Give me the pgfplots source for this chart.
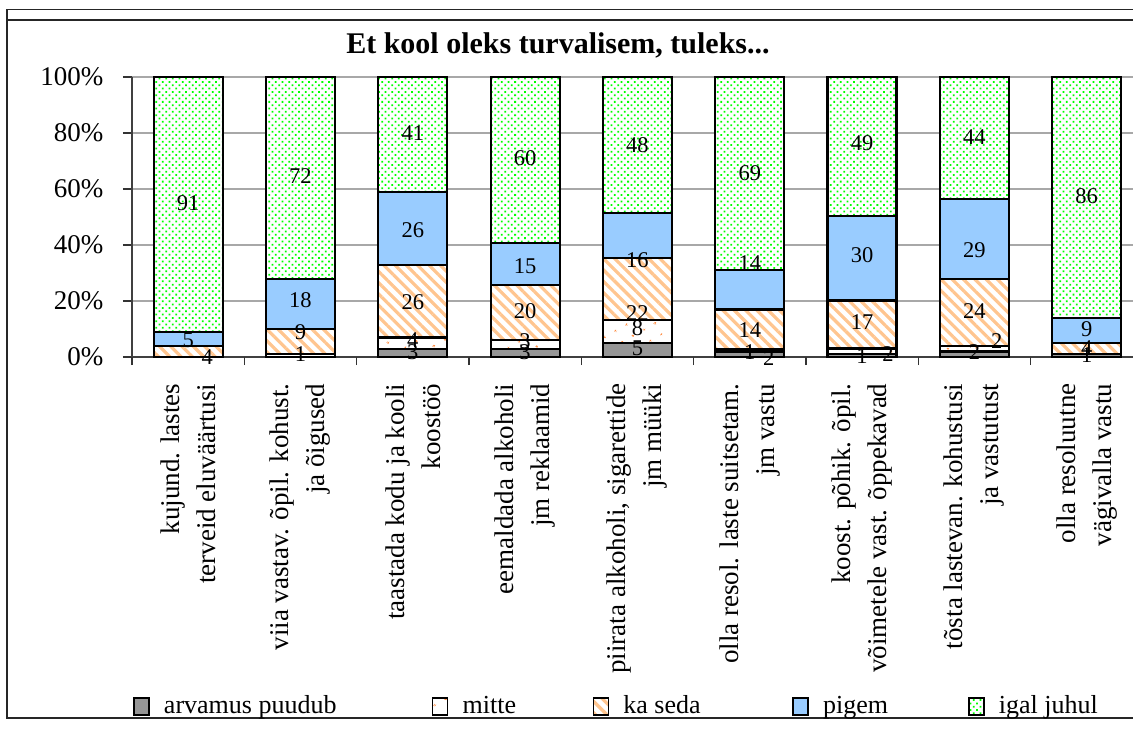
\documentclass[border=0pt]{standalone}
\usepackage{pgfplots}
\pgfplotsset{compat=1.18}
\usepackage{pgfplotstable}
\usetikzlibrary{patterns.meta}
\usepackage{fontspec}
\setmainfont{Liberation Serif}
\definecolor{cgray}{HTML}{969696}
\definecolor{cpeach}{HTML}{FFC58F}
\definecolor{cdotor}{HTML}{FF8A3D}
\definecolor{cblue}{HTML}{99CCFF}
\definecolor{cgreen}{HTML}{00FF00}
\definecolor{cgrid}{HTML}{A8A8A8}

\pgfplotstableread{
x  arv   mit   kas    pig    iga
0  0     0     4      5      91
1  0     1     9      18     72
2  3     4     26     26     41
3  2.97  2.97  19.80  14.85  59.41
4  5.05  8.08  22.22  16.16  48.49
5  2     1     14     14     69
6  1.01  2.02  17.17  30.30  49.50
7  1.98  1.98  23.76  28.71  43.57
8  1     0     4      9      86
}\bars

\pgfplotstableread{
x     y     lab
0.17  0     4
0     6     5
0     55    91
1     1     1
1     9     9
1     20.4  18
1     64.6  72
2     1.8   3
2     6     4
2     19.6  26
2     45.4  26
2     80    41
3     1.8   3
3     5.7   3
3     16.4  20
3     32.5  15
3     71    60
4     3.2   5
4     10.4  8
4     15.7  22
4     34.6  16
4     75.7  48
5.17  -0.4  2
5     1.8   1
5     9.6   14
5     33.6  14
5     65.7  69
6     0.4   1
6.23  1     2
6     12.5  17
6     36.4  30
6     76.4  49
7     1.8   2
7.2   5.7   2
7     16.4  24
7     38.2  29
7     78.6  44
8     0.7   1
8     3.2   4
8     10    9
8     57.5  86
}\labels

\begin{document}
\begin{tikzpicture}
\useasboundingbox (-132pt,-373pt) rectangle (1001pt,357pt);
\clip (-132pt,-373pt) rectangle (1001pt,357pt);
% chart frame
\draw[line width=1.3pt, black!85] (1020pt,347.5pt) -- (-125pt,347.5pt) -- (-125pt,-361pt) -- (1020pt,-361pt);
\draw[line width=1.3pt, black!85] (-125pt,337pt) -- (1020pt,337pt);
\node[font=\bfseries\fontsize{30}{36}\selectfont] at (426pt,312pt) {Et kool oleks turvalisem, tuleks...};

\begin{axis}[
  at={(0pt,0pt)}, anchor=south west,
  scale only axis, width=1011pt, height=280pt,
  ybar stacked, bar width=69pt,
  xmin=-0.5, xmax=8.5, ymin=0, ymax=100,
  axis x line*=bottom, axis y line*=left,
  axis line style={line width=1.6pt, black!75, -},
  ytick={0,20,...,100},
  yticklabel={\pgfmathprintnumber{\tick}\%},
  /pgf/number format/assume math mode=true,
  yticklabel style={font=\fontsize{27}{32}\selectfont, xshift=-16pt},
  ymajorgrids, grid style={line width=1.5pt, cgrid},
  major tick style={line width=1.3pt, black!80},
  minor tick style={line width=1.3pt, black!80},
  tick align=outside,
  major tick length=9pt,
  xtick={0,...,8},
  x tick style={draw=none},
  extra x ticks={-0.5,0.5,...,8.5}, extra x tick labels={},
  extra x tick style={major tick length=8pt, x tick style={draw=black!80, line width=1.3pt}, grid=none},
  xticklabels={
    {kujund. lastes\\terveid eluväärtusi},
    {viia vastav. õpil. kohust.\\ja õigused},
    {taastada kodu ja kooli\\koostöö},
    {eemaldada alkoholi\\jm reklaamid},
    {piirata alkoholi, sigarettide\\jm müüki},
    {olla resol. laste suitsetam.\\jm vastu},
    {koost. põhik. õpil.\\võimetele vast. õppekavad},
    {tõsta lastevan. kohustusi\\ja vastutust},
    {olla resoluutne\\vägivalla vastu}},
  xticklabel style={rotate=90, anchor=east, align=right, font=\fontsize{27}{36}\selectfont},
  xticklabel shift=14pt,
  legend columns=5,
  legend style={at={(0.001,-1.25)}, anchor=west, draw=none, fill=none,
     inner sep=0pt, column sep=0pt, row sep=0pt,
     font=\fontsize{26}{30}\selectfont,
     nodes={inner sep=0pt, anchor=base west, text height=18pt, text depth=6pt}},
  legend image code/.code={
     \draw[#1, line width=1.3pt] (0pt,-2pt) rectangle (15pt,15pt);
     \path (29pt,0pt);},
  every axis plot/.append style={draw=black, line width=2.2pt},
]
\addplot[fill=cgray] table[x=x,y=arv]{\bars};
\addplot[fill=white, postaction={pattern={Dots[radius=1.3pt, distance=13pt, angle=30]}, pattern color=cdotor}] table[x=x,y=mit]{\bars};
\addplot[fill=white, postaction={pattern={Lines[angle=-45, distance=8pt, line width=3.2pt]}, pattern color=cpeach}] table[x=x,y=kas]{\bars};
\addplot[fill=cblue] table[x=x,y=pig]{\bars};
\addplot[fill=white, postaction={pattern={Dots[radius=1.25pt, distance=4.7pt, angle=45]}, pattern color=cgreen}] table[x=x,y=iga]{\bars};
\legend{\makebox[268pt][l]{arvamus puudub},\makebox[130pt][l]{mitte},\makebox[169pt][l]{ka seda},\makebox[145pt][l]{pigem},igal juhul}
\end{axis}

\begin{axis}[
  at={(0pt,0pt)}, anchor=south west,
  scale only axis, width=1011pt, height=280pt,
  xmin=-0.5, xmax=8.5, ymin=0, ymax=100,
  hide axis, clip=false,
]
\addplot[draw=none, mark=none, nodes near coords, point meta=explicit symbolic,
  every node near coord/.append style={anchor=center, inner sep=0pt, font=\fontsize{22.5}{25}\selectfont, text=black}]
  table[x=x,y=y,meta=lab]{\labels};
\end{axis}
\end{tikzpicture}
\end{document}
